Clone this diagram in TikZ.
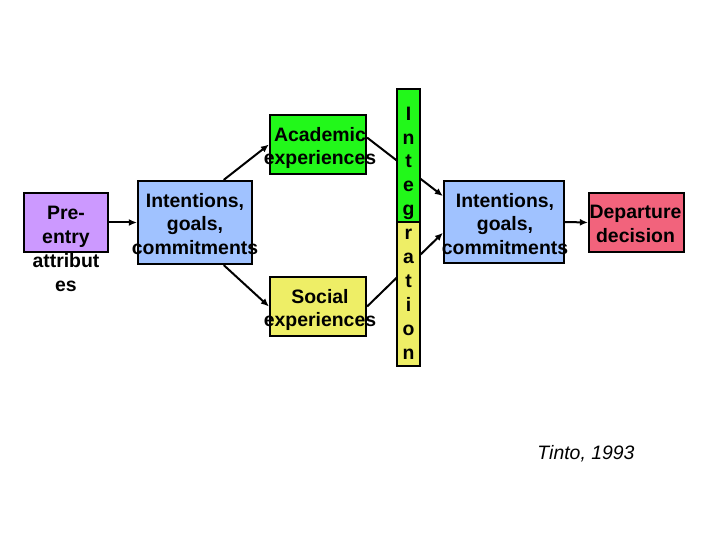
\documentclass[tikz,border=0pt]{standalone}
\usepackage{fontspec}
\setmainfont{Liberation Sans}
\usepackage{xcolor}
\usetikzlibrary{arrows.meta}

\definecolor{preentry}{HTML}{CC99FF}
\definecolor{intent}{HTML}{A0C2FF}
\definecolor{academic}{HTML}{22F81A}
\definecolor{social}{HTML}{EEEE66}
\definecolor{departure}{HTML}{F2637C}

\tikzset{
	box/.style={rectangle, draw=black, line width=2.2bp, inner sep=0pt},
	boxtext/.style={font=\fontsize{19.5}{24}\selectfont\bfseries, align=center, inner sep=0pt},
	link/.style={line width=2bp, -{Latex[length=8bp,width=7bp]}}
}

\begin{document}
\begin{tikzpicture}[x=1bp,y=-1bp]
			%\draw[help lines] (0,0) grid (720,540);
			\useasboundingbox (0,0) rectangle (720,540);
			
			\node[box, fill=preentry, minimum width=84bp, minimum height=59bp] (pre) at (66,222.5) {};
			\node[box, fill=intent, minimum width=114bp, minimum height=83bp] (int1) at (195,222.5) {};
			\node[box, fill=academic, minimum width=96bp, minimum height=59bp] (acad) at (318,144.5) {};
			\node[box, fill=social, minimum width=96bp, minimum height=59bp] (soc) at (318,306.5) {};
			\node[box, fill=intent, minimum width=120bp, minimum height=82bp] (int2) at (504,222) {};
			\node[box, fill=departure, minimum width=95bp, minimum height=59bp] (dep) at (636.5,222.5) {};
			
			\path[link]
			(pre.east) edge (int1.west)
			(int1.56) edge (acad.west)
			(int1.-56) edge (soc.west)
			(acad.8) edge (int2.157)
			(soc.east) edge (int2.190)
			(int2.east) edge (dep.west);
			
			% integration bar lies over the links
			\node[box, fill=academic, minimum width=23bp, minimum height=133bp] (bartop) at (408.5,155.5) {};
			\node[box, fill=social, minimum width=23bp, minimum height=144bp] (barbot) at (408.5,294) {};
			
			\node[boxtext] (pretext) at (66,249) {Pre-\\entry\\attribut\\es};
			\node[boxtext] (int1text) at (195,224) {Intentions,\\goals,\\commitments};
			\node[boxtext] (acadtext) at (320,148) {Academic\\experiences};
			\node[boxtext] (soctext) at (320,310) {Social\\experiences};
			\node[boxtext] (bartext) at (408.5,233) {I\\n\\t\\e\\g\\r\\a\\t\\i\\o\\n};
			\node[boxtext] (int2text) at (505,224) {Intentions,\\goals,\\commitments};
			\node[boxtext] (deptext) at (635.5,224) {Departure\\decision};
			
			\node[font=\fontsize{19.5}{24}\selectfont\itshape, inner sep=0pt] (source) at (586,454) {Tinto, 1993};
			
\end{tikzpicture}
\end{document}
